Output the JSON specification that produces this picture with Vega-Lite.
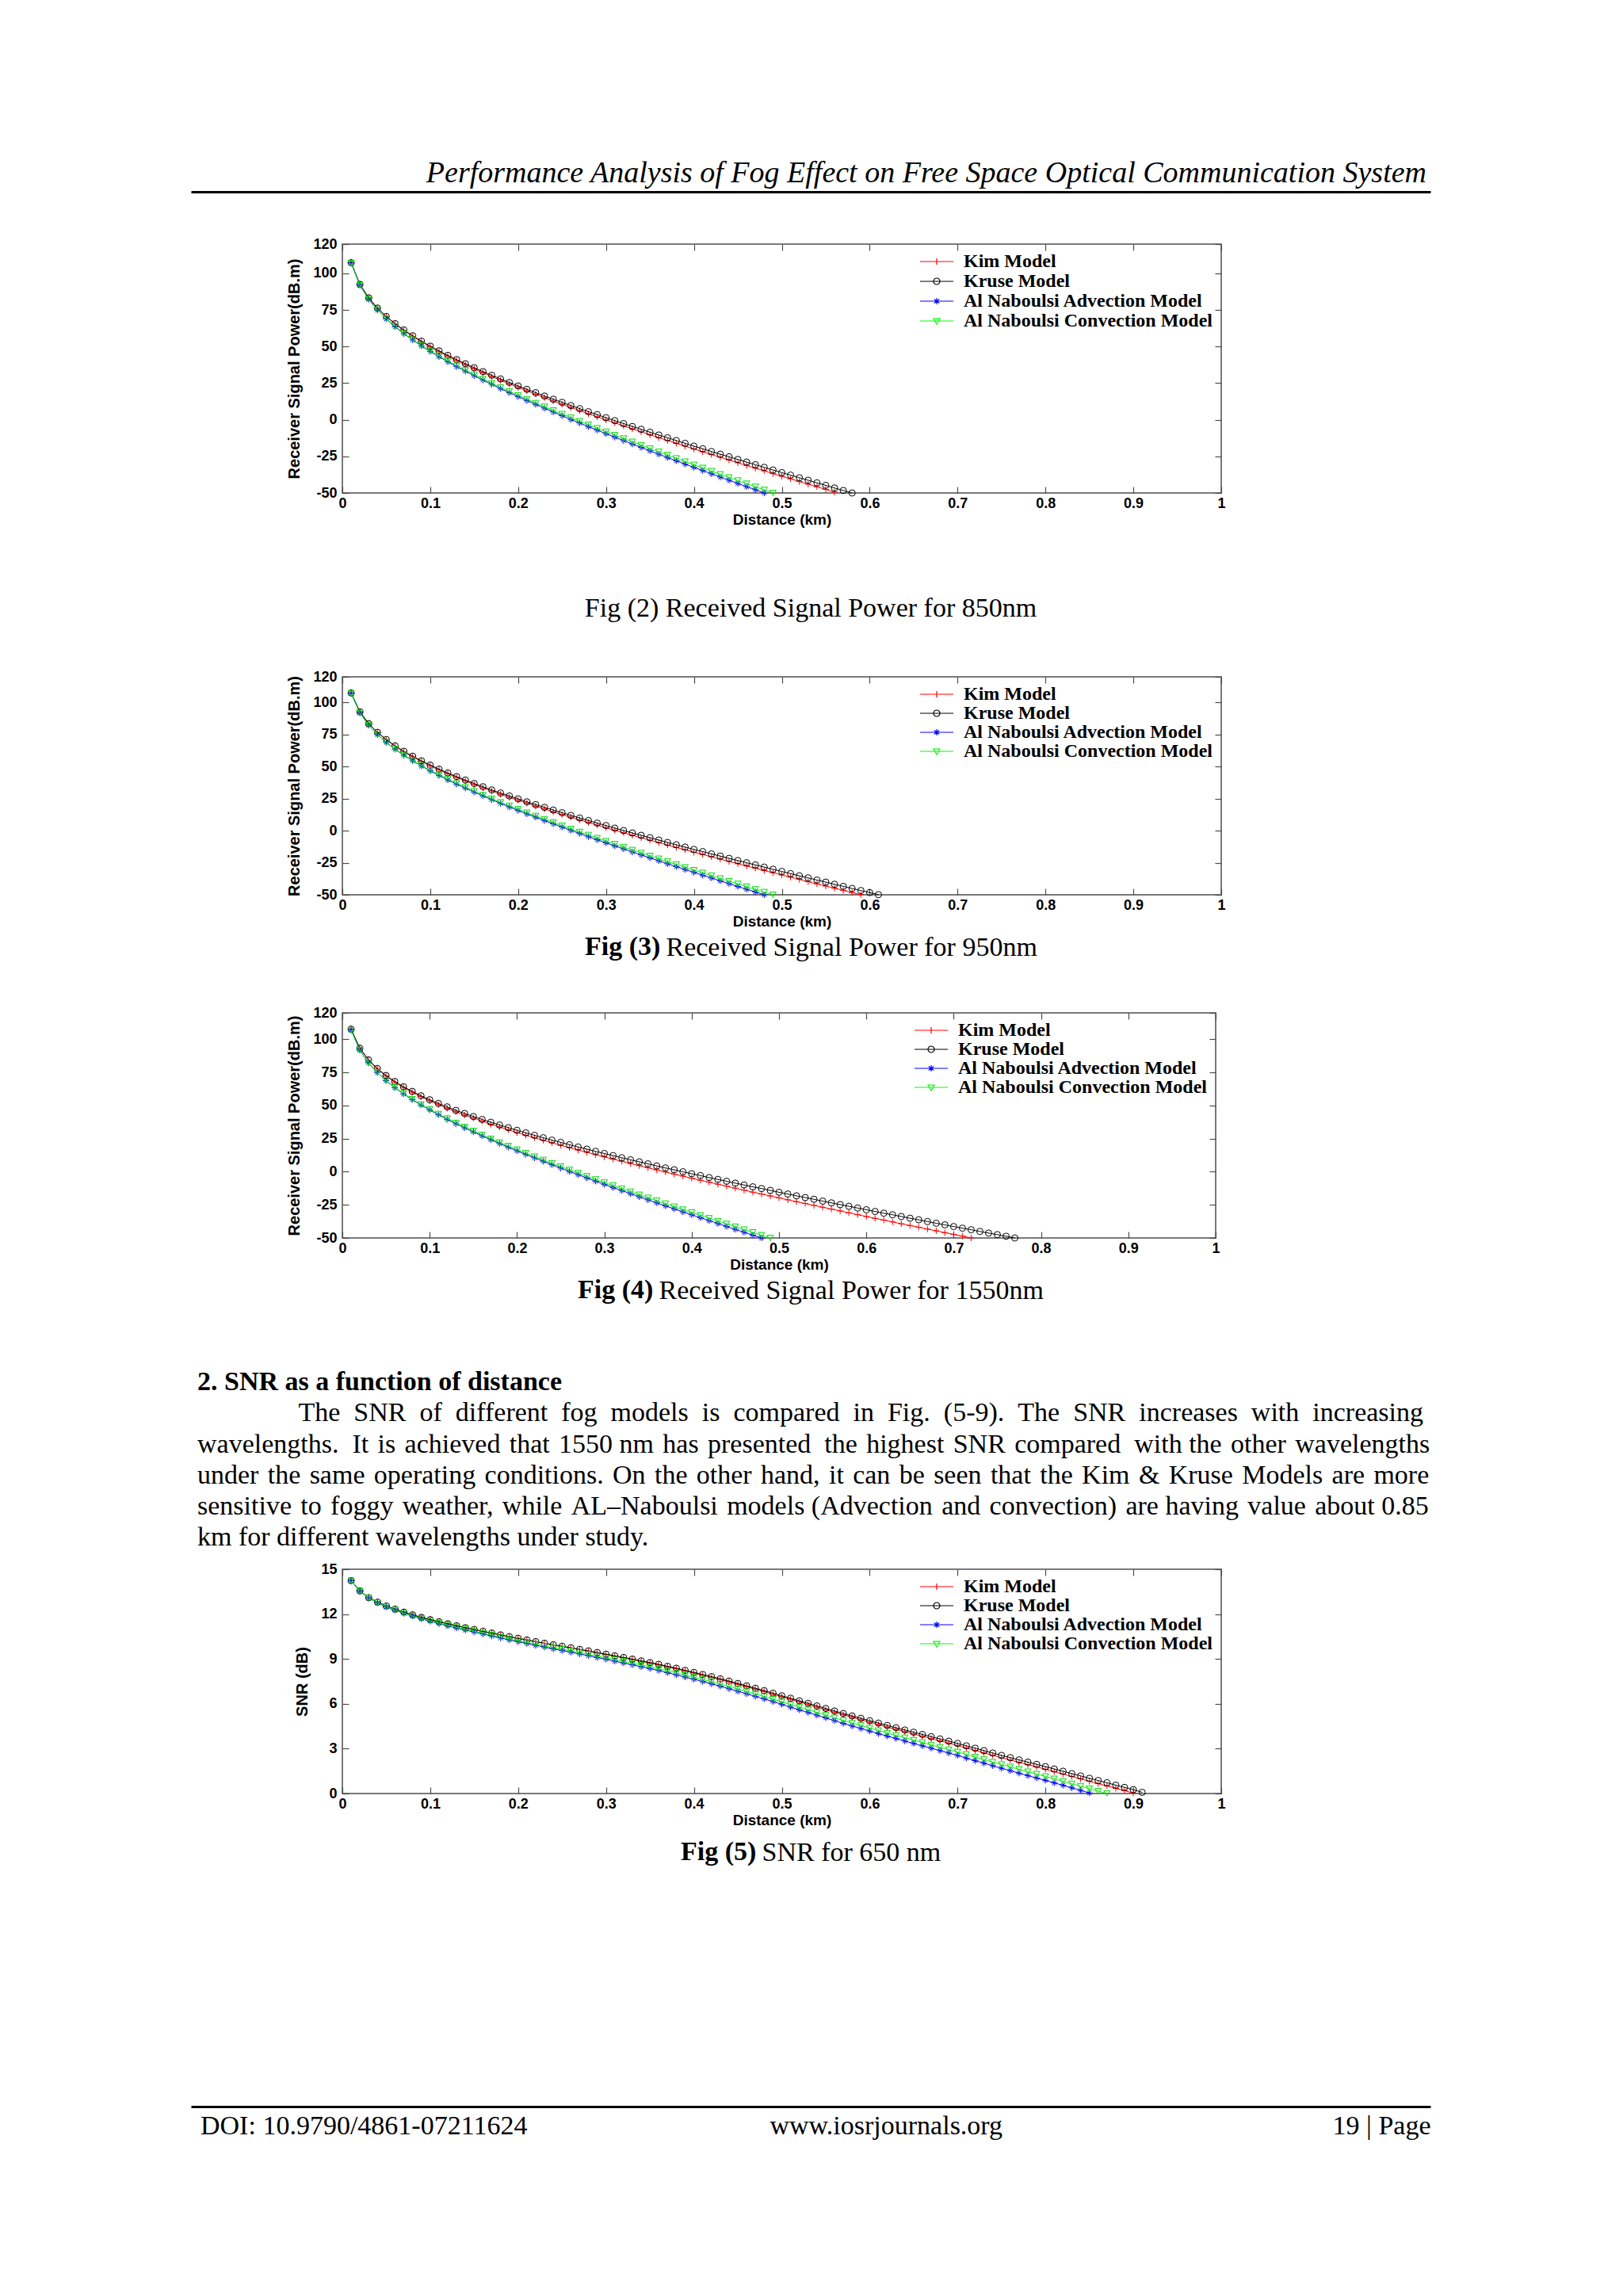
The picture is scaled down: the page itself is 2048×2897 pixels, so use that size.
{
"$schema": "https://vega.github.io/schema/vega-lite/v6.json",
"background": "white",
"padding": {"left": 241, "top": 200, "right": 0, "bottom": 0},
"bounds": "flush",
"spacing": 0,
"resolve": {"scale": {"color": "independent", "shape": "independent"}, "legend": {"color": "independent", "shape": "independent"}},
"datasets": {
"c1": [
{"d":0.01,"K":107.3,"R":107.3,"A":107.0,"C":107.0},
{"d":0.02,"K":92.4,"R":92.5,"A":91.8,"C":91.9},
{"d":0.03,"K":83.1,"R":83.3,"A":82.2,"C":82.3},
{"d":0.04,"K":76.1,"R":76.3,"A":74.9,"C":75.0},
{"d":0.05,"K":70.4,"R":70.6,"A":68.8,"C":69.0},
{"d":0.06,"K":65.4,"R":65.7,"A":63.5,"C":63.8},
{"d":0.07,"K":61.0,"R":61.4,"A":58.8,"C":59.1},
{"d":0.08,"K":57.0,"R":57.4,"A":54.5,"C":54.8},
{"d":0.09,"K":53.3,"R":53.7,"A":50.4,"C":50.8},
{"d":0.1,"K":49.8,"R":50.3,"A":46.7,"C":47.1},
{"d":0.11,"K":46.5,"R":47.1,"A":43.1,"C":43.6},
{"d":0.12,"K":43.4,"R":44.0,"A":39.6,"C":40.2},
{"d":0.13,"K":40.4,"R":41.1,"A":36.3,"C":36.9},
{"d":0.14,"K":37.6,"R":38.3,"A":33.2,"C":33.8},
{"d":0.15,"K":34.8,"R":35.6,"A":30.1,"C":30.8},
{"d":0.16,"K":32.1,"R":32.9,"A":27.1,"C":27.8},
{"d":0.17,"K":29.5,"R":30.4,"A":24.2,"C":24.9},
{"d":0.18,"K":27.0,"R":27.9,"A":21.3,"C":22.1},
{"d":0.19,"K":24.5,"R":25.5,"A":18.5,"C":19.4},
{"d":0.2,"K":22.1,"R":23.1,"A":15.8,"C":16.7},
{"d":0.21,"K":19.7,"R":20.8,"A":13.1,"C":14.0},
{"d":0.22,"K":17.4,"R":18.5,"A":10.5,"C":11.4},
{"d":0.23,"K":15.1,"R":16.2,"A":7.9,"C":8.9},
{"d":0.24,"K":12.8,"R":14.0,"A":5.3,"C":6.3},
{"d":0.25,"K":10.6,"R":11.9,"A":2.8,"C":3.9},
{"d":0.26,"K":8.4,"R":9.7,"A":0.2,"C":1.4},
{"d":0.27,"K":6.3,"R":7.6,"A":-2.2,"C":-1.0},
{"d":0.28,"K":4.1,"R":5.5,"A":-4.7,"C":-3.4},
{"d":0.29,"K":2.0,"R":3.5,"A":-7.1,"C":-5.8},
{"d":0.3,"K":-0.1,"R":1.4,"A":-9.5,"C":-8.2},
{"d":0.31,"K":-2.1,"R":-0.6,"A":-11.9,"C":-10.5},
{"d":0.32,"K":-4.2,"R":-2.6,"A":-14.2,"C":-12.8},
{"d":0.33,"K":-6.2,"R":-4.6,"A":-16.6,"C":-15.1},
{"d":0.34,"K":-8.2,"R":-6.5,"A":-18.9,"C":-17.4},
{"d":0.35,"K":-10.2,"R":-8.5,"A":-21.2,"C":-19.7},
{"d":0.36,"K":-12.2,"R":-10.4,"A":-23.5,"C":-21.9},
{"d":0.37,"K":-14.2,"R":-12.3,"A":-25.8,"C":-24.1},
{"d":0.38,"K":-16.1,"R":-14.2,"A":-28.0,"C":-26.4},
{"d":0.39,"K":-18.0,"R":-16.1,"A":-30.3,"C":-28.6},
{"d":0.4,"K":-20.0,"R":-18.0,"A":-32.5,"C":-30.8},
{"d":0.41,"K":-21.9,"R":-19.8,"A":-34.7,"C":-32.9},
{"d":0.42,"K":-23.8,"R":-21.7,"A":-36.9,"C":-35.1},
{"d":0.43,"K":-25.6,"R":-23.5,"A":-39.1,"C":-37.3},
{"d":0.44,"K":-27.5,"R":-25.3,"A":-41.3,"C":-39.4},
{"d":0.45,"K":-29.4,"R":-27.1,"A":-43.5,"C":-41.5},
{"d":0.46,"K":-31.2,"R":-28.9,"A":-45.7,"C":-43.7},
{"d":0.47,"K":-33.1,"R":-30.7,"A":-47.8,"C":-45.8},
{"d":0.48,"K":-34.9,"R":-32.5,"A":-50.0,"C":-47.9},
{"d":0.49,"K":-36.8,"R":-34.3,"C":-50.0},
{"d":0.5,"K":-38.6,"R":-36.1},
{"d":0.51,"K":-40.4,"R":-37.8},
{"d":0.52,"K":-42.2,"R":-39.6},
{"d":0.53,"K":-44.0,"R":-41.3},
{"d":0.54,"K":-45.8,"R":-43.1},
{"d":0.55,"K":-47.6,"R":-44.8},
{"d":0.56,"K":-49.4,"R":-46.6},
{"d":0.57,"R":-48.3},
{"d":0.58,"R":-50.0}
],
"c2": [
{"d":0.01,"K":107.4,"R":107.4,"A":107.0,"C":107.0},
{"d":0.02,"K":92.6,"R":92.7,"A":91.8,"C":91.9},
{"d":0.03,"K":83.4,"R":83.5,"A":82.2,"C":82.3},
{"d":0.04,"K":76.5,"R":76.7,"A":74.9,"C":75.0},
{"d":0.05,"K":70.8,"R":71.1,"A":68.8,"C":69.0},
{"d":0.06,"K":65.9,"R":66.2,"A":63.5,"C":63.8},
{"d":0.07,"K":61.6,"R":61.9,"A":58.8,"C":59.1},
{"d":0.08,"K":57.6,"R":58.1,"A":54.5,"C":54.8},
{"d":0.09,"K":54.0,"R":54.5,"A":50.4,"C":50.8},
{"d":0.1,"K":50.6,"R":51.2,"A":46.7,"C":47.1},
{"d":0.11,"K":47.4,"R":48.0,"A":43.1,"C":43.6},
{"d":0.12,"K":44.4,"R":45.0,"A":39.6,"C":40.2},
{"d":0.13,"K":41.5,"R":42.2,"A":36.3,"C":36.9},
{"d":0.14,"K":38.7,"R":39.5,"A":33.2,"C":33.8},
{"d":0.15,"K":36.0,"R":36.8,"A":30.1,"C":30.8},
{"d":0.16,"K":33.4,"R":34.3,"A":27.1,"C":27.8},
{"d":0.17,"K":30.9,"R":31.8,"A":24.2,"C":24.9},
{"d":0.18,"K":28.4,"R":29.4,"A":21.3,"C":22.1},
{"d":0.19,"K":26.0,"R":27.1,"A":18.5,"C":19.4},
{"d":0.2,"K":23.7,"R":24.8,"A":15.8,"C":16.7},
{"d":0.21,"K":21.4,"R":22.5,"A":13.1,"C":14.0},
{"d":0.22,"K":19.1,"R":20.3,"A":10.5,"C":11.4},
{"d":0.23,"K":16.9,"R":18.2,"A":7.9,"C":8.9},
{"d":0.24,"K":14.7,"R":16.1,"A":5.3,"C":6.3},
{"d":0.25,"K":12.6,"R":14.0,"A":2.8,"C":3.9},
{"d":0.26,"K":10.5,"R":11.9,"A":0.2,"C":1.4},
{"d":0.27,"K":8.4,"R":9.9,"A":-2.2,"C":-1.0},
{"d":0.28,"K":6.4,"R":7.9,"A":-4.7,"C":-3.4},
{"d":0.29,"K":4.3,"R":5.9,"A":-7.1,"C":-5.8},
{"d":0.3,"K":2.3,"R":4.0,"A":-9.5,"C":-8.2},
{"d":0.31,"K":0.3,"R":2.0,"A":-11.9,"C":-10.5},
{"d":0.32,"K":-1.6,"R":0.1,"A":-14.2,"C":-12.8},
{"d":0.33,"K":-3.6,"R":-1.8,"A":-16.6,"C":-15.1},
{"d":0.34,"K":-5.5,"R":-3.6,"A":-18.9,"C":-17.4},
{"d":0.35,"K":-7.4,"R":-5.5,"A":-21.2,"C":-19.7},
{"d":0.36,"K":-9.3,"R":-7.3,"A":-23.5,"C":-21.9},
{"d":0.37,"K":-11.2,"R":-9.2,"A":-25.8,"C":-24.1},
{"d":0.38,"K":-13.1,"R":-11.0,"A":-28.0,"C":-26.4},
{"d":0.39,"K":-14.9,"R":-12.8,"A":-30.3,"C":-28.6},
{"d":0.4,"K":-16.8,"R":-14.6,"A":-32.5,"C":-30.8},
{"d":0.41,"K":-18.6,"R":-16.3,"A":-34.7,"C":-32.9},
{"d":0.42,"K":-20.4,"R":-18.1,"A":-36.9,"C":-35.1},
{"d":0.43,"K":-22.2,"R":-19.8,"A":-39.1,"C":-37.3},
{"d":0.44,"K":-24.0,"R":-21.6,"A":-41.3,"C":-39.4},
{"d":0.45,"K":-25.8,"R":-23.3,"A":-43.5,"C":-41.5},
{"d":0.46,"K":-27.6,"R":-25.0,"A":-45.7,"C":-43.7},
{"d":0.47,"K":-29.3,"R":-26.7,"A":-47.8,"C":-45.8},
{"d":0.48,"K":-31.1,"R":-28.4,"A":-50.0,"C":-47.9},
{"d":0.49,"K":-32.8,"R":-30.1,"C":-50.0},
{"d":0.5,"K":-34.6,"R":-31.8},
{"d":0.51,"K":-36.3,"R":-33.5},
{"d":0.52,"K":-38.0,"R":-35.2},
{"d":0.53,"K":-39.8,"R":-36.8},
{"d":0.54,"K":-41.5,"R":-38.5},
{"d":0.55,"K":-43.2,"R":-40.1},
{"d":0.56,"K":-44.9,"R":-41.8},
{"d":0.57,"K":-46.6,"R":-43.4},
{"d":0.58,"K":-48.3,"R":-45.1},
{"d":0.59,"K":-49.9,"R":-46.7},
{"d":0.6,"R":-48.3},
{"d":0.61,"R":-49.9}
],
"c3": [
{"d":0.01,"K":107.6,"R":107.7,"A":107.0,"C":107.0},
{"d":0.02,"K":93.2,"R":93.3,"A":91.8,"C":91.9},
{"d":0.03,"K":84.3,"R":84.5,"A":82.2,"C":82.3},
{"d":0.04,"K":77.6,"R":78.0,"A":74.9,"C":75.0},
{"d":0.05,"K":72.3,"R":72.7,"A":68.8,"C":69.0},
{"d":0.06,"K":67.7,"R":68.2,"A":63.5,"C":63.8},
{"d":0.07,"K":63.6,"R":64.2,"A":58.8,"C":59.1},
{"d":0.08,"K":60.0,"R":60.7,"A":54.5,"C":54.8},
{"d":0.09,"K":56.7,"R":57.4,"A":50.4,"C":50.8},
{"d":0.1,"K":53.6,"R":54.4,"A":46.7,"C":47.1},
{"d":0.11,"K":50.7,"R":51.6,"A":43.1,"C":43.6},
{"d":0.12,"K":47.9,"R":49.0,"A":39.6,"C":40.2},
{"d":0.13,"K":45.3,"R":46.4,"A":36.3,"C":36.9},
{"d":0.14,"K":42.8,"R":44.0,"A":33.2,"C":33.8},
{"d":0.15,"K":40.5,"R":41.7,"A":30.1,"C":30.8},
{"d":0.16,"K":38.2,"R":39.5,"A":27.1,"C":27.8},
{"d":0.17,"K":35.9,"R":37.4,"A":24.2,"C":24.9},
{"d":0.18,"K":33.8,"R":35.3,"A":21.3,"C":22.1},
{"d":0.19,"K":31.7,"R":33.3,"A":18.5,"C":19.4},
{"d":0.2,"K":29.6,"R":31.3,"A":15.8,"C":16.7},
{"d":0.21,"K":27.6,"R":29.4,"A":13.1,"C":14.0},
{"d":0.22,"K":25.7,"R":27.5,"A":10.5,"C":11.4},
{"d":0.23,"K":23.8,"R":25.7,"A":7.9,"C":8.9},
{"d":0.24,"K":21.9,"R":23.9,"A":5.3,"C":6.3},
{"d":0.25,"K":20.0,"R":22.2,"A":2.8,"C":3.9},
{"d":0.26,"K":18.2,"R":20.4,"A":0.2,"C":1.4},
{"d":0.27,"K":16.4,"R":18.7,"A":-2.2,"C":-1.0},
{"d":0.28,"K":14.7,"R":17.1,"A":-4.7,"C":-3.4},
{"d":0.29,"K":12.9,"R":15.4,"A":-7.1,"C":-5.8},
{"d":0.3,"K":11.2,"R":13.8,"A":-9.5,"C":-8.2},
{"d":0.31,"K":9.5,"R":12.2,"A":-11.9,"C":-10.5},
{"d":0.32,"K":7.9,"R":10.6,"A":-14.2,"C":-12.8},
{"d":0.33,"K":6.2,"R":9.0,"A":-16.6,"C":-15.1},
{"d":0.34,"K":4.6,"R":7.5,"A":-18.9,"C":-17.4},
{"d":0.35,"K":3.0,"R":6.0,"A":-21.2,"C":-19.7},
{"d":0.36,"K":1.4,"R":4.4,"A":-23.5,"C":-21.9},
{"d":0.37,"K":-0.2,"R":2.9,"A":-25.8,"C":-24.1},
{"d":0.38,"K":-1.8,"R":1.5,"A":-28.0,"C":-26.4},
{"d":0.39,"K":-3.3,"R":0.0,"A":-30.3,"C":-28.6},
{"d":0.4,"K":-4.9,"R":-1.5,"A":-32.5,"C":-30.8},
{"d":0.41,"K":-6.4,"R":-2.9,"A":-34.7,"C":-32.9},
{"d":0.42,"K":-7.9,"R":-4.4,"A":-36.9,"C":-35.1},
{"d":0.43,"K":-9.4,"R":-5.8,"A":-39.1,"C":-37.3},
{"d":0.44,"K":-10.9,"R":-7.2,"A":-41.3,"C":-39.4},
{"d":0.45,"K":-12.4,"R":-8.6,"A":-43.5,"C":-41.5},
{"d":0.46,"K":-13.9,"R":-10.0,"A":-45.7,"C":-43.7},
{"d":0.47,"K":-15.4,"R":-11.4,"A":-47.8,"C":-45.8},
{"d":0.48,"K":-16.8,"R":-12.7,"A":-50.0,"C":-47.9},
{"d":0.49,"K":-18.3,"R":-14.1,"C":-50.0},
{"d":0.5,"K":-19.7,"R":-15.5},
{"d":0.51,"K":-21.2,"R":-16.8},
{"d":0.52,"K":-22.6,"R":-18.2},
{"d":0.53,"K":-24.0,"R":-19.5},
{"d":0.54,"K":-25.4,"R":-20.8},
{"d":0.55,"K":-26.8,"R":-22.2},
{"d":0.56,"K":-28.2,"R":-23.5},
{"d":0.57,"K":-29.6,"R":-24.8},
{"d":0.58,"K":-31.0,"R":-26.1},
{"d":0.59,"K":-32.4,"R":-27.4},
{"d":0.6,"K":-33.8,"R":-28.7},
{"d":0.61,"K":-35.2,"R":-30.0},
{"d":0.62,"K":-36.5,"R":-31.3},
{"d":0.63,"K":-37.9,"R":-32.5},
{"d":0.64,"K":-39.3,"R":-33.8},
{"d":0.65,"K":-40.6,"R":-35.1},
{"d":0.66,"K":-41.9,"R":-36.3},
{"d":0.67,"K":-43.3,"R":-37.6},
{"d":0.68,"K":-44.6,"R":-38.9},
{"d":0.69,"K":-46.0,"R":-40.1},
{"d":0.7,"K":-47.3,"R":-41.4},
{"d":0.71,"K":-48.6,"R":-42.6},
{"d":0.72,"K":-50.0,"R":-43.8},
{"d":0.73,"R":-45.1},
{"d":0.74,"R":-46.3},
{"d":0.75,"R":-47.5},
{"d":0.76,"R":-48.7},
{"d":0.77,"R":-50.0}
],
"c4": [
{"d":0.01,"K":14.24,"R":14.24,"A":14.23,"C":14.23},
{"d":0.02,"K":13.55,"R":13.55,"A":13.53,"C":13.53},
{"d":0.03,"K":13.1,"R":13.1,"A":13.07,"C":13.08},
{"d":0.04,"K":12.8,"R":12.8,"A":12.75,"C":12.77},
{"d":0.05,"K":12.54,"R":12.54,"A":12.48,"C":12.5},
{"d":0.06,"K":12.33,"R":12.33,"A":12.26,"C":12.28},
{"d":0.07,"K":12.13,"R":12.13,"A":12.05,"C":12.07},
{"d":0.08,"K":11.95,"R":11.95,"A":11.86,"C":11.88},
{"d":0.09,"K":11.78,"R":11.78,"A":11.68,"C":11.71},
{"d":0.1,"K":11.63,"R":11.63,"A":11.52,"C":11.55},
{"d":0.11,"K":11.49,"R":11.49,"A":11.36,"C":11.4},
{"d":0.12,"K":11.35,"R":11.35,"A":11.21,"C":11.25},
{"d":0.13,"K":11.22,"R":11.22,"A":11.07,"C":11.11},
{"d":0.14,"K":11.08,"R":11.09,"A":10.93,"C":10.98},
{"d":0.15,"K":10.96,"R":10.97,"A":10.8,"C":10.85},
{"d":0.16,"K":10.84,"R":10.85,"A":10.67,"C":10.72},
{"d":0.17,"K":10.72,"R":10.73,"A":10.53,"C":10.59},
{"d":0.18,"K":10.6,"R":10.61,"A":10.4,"C":10.46},
{"d":0.19,"K":10.48,"R":10.49,"A":10.27,"C":10.33},
{"d":0.2,"K":10.37,"R":10.38,"A":10.15,"C":10.22},
{"d":0.21,"K":10.26,"R":10.27,"A":10.03,"C":10.1},
{"d":0.22,"K":10.15,"R":10.16,"A":9.91,"C":9.98},
{"d":0.23,"K":10.04,"R":10.05,"A":9.79,"C":9.86},
{"d":0.24,"K":9.93,"R":9.95,"A":9.67,"C":9.75},
{"d":0.25,"K":9.83,"R":9.85,"A":9.56,"C":9.65},
{"d":0.26,"K":9.73,"R":9.75,"A":9.45,"C":9.54},
{"d":0.27,"K":9.62,"R":9.64,"A":9.33,"C":9.42},
{"d":0.28,"K":9.52,"R":9.54,"A":9.22,"C":9.31},
{"d":0.29,"K":9.41,"R":9.43,"A":9.1,"C":9.19},
{"d":0.3,"K":9.29,"R":9.32,"A":8.98,"C":9.07},
{"d":0.31,"K":9.18,"R":9.21,"A":8.85,"C":8.96},
{"d":0.32,"K":9.07,"R":9.1,"A":8.73,"C":8.84},
{"d":0.33,"K":8.96,"R":8.99,"A":8.61,"C":8.72},
{"d":0.34,"K":8.84,"R":8.87,"A":8.48,"C":8.59},
{"d":0.35,"K":8.73,"R":8.76,"A":8.36,"C":8.47},
{"d":0.36,"K":8.6,"R":8.64,"A":8.23,"C":8.34},
{"d":0.37,"K":8.47,"R":8.51,"A":8.08,"C":8.21},
{"d":0.38,"K":8.34,"R":8.38,"A":7.94,"C":8.07},
{"d":0.39,"K":8.2,"R":8.24,"A":7.79,"C":7.92},
{"d":0.4,"K":8.06,"R":8.1,"A":7.64,"C":7.77},
{"d":0.41,"K":7.91,"R":7.96,"A":7.49,"C":7.62},
{"d":0.42,"K":7.77,"R":7.82,"A":7.34,"C":7.48},
{"d":0.43,"K":7.62,"R":7.67,"A":7.18,"C":7.32},
{"d":0.44,"K":7.47,"R":7.52,"A":7.01,"C":7.16},
{"d":0.45,"K":7.3,"R":7.36,"A":6.84,"C":6.99},
{"d":0.46,"K":7.14,"R":7.2,"A":6.67,"C":6.82},
{"d":0.47,"K":6.98,"R":7.04,"A":6.5,"C":6.65},
{"d":0.48,"K":6.82,"R":6.88,"A":6.33,"C":6.49},
{"d":0.49,"K":6.64,"R":6.71,"A":6.15,"C":6.31},
{"d":0.5,"K":6.47,"R":6.54,"A":5.97,"C":6.13},
{"d":0.51,"K":6.3,"R":6.37,"A":5.78,"C":5.95},
{"d":0.52,"K":6.12,"R":6.2,"A":5.6,"C":5.77},
{"d":0.53,"K":5.95,"R":6.03,"A":5.42,"C":5.6},
{"d":0.54,"K":5.78,"R":5.86,"A":5.24,"C":5.42},
{"d":0.55,"K":5.6,"R":5.69,"A":5.06,"C":5.24},
{"d":0.56,"K":5.43,"R":5.52,"A":4.88,"C":5.06},
{"d":0.57,"K":5.26,"R":5.35,"A":4.69,"C":4.88},
{"d":0.58,"K":5.1,"R":5.19,"A":4.52,"C":4.71},
{"d":0.59,"K":4.93,"R":5.03,"A":4.35,"C":4.55},
{"d":0.6,"K":4.77,"R":4.87,"A":4.18,"C":4.38},
{"d":0.61,"K":4.61,"R":4.71,"A":4.01,"C":4.21},
{"d":0.62,"K":4.44,"R":4.55,"A":3.84,"C":4.04},
{"d":0.63,"K":4.29,"R":4.4,"A":3.68,"C":3.88},
{"d":0.64,"K":4.14,"R":4.25,"A":3.51,"C":3.73},
{"d":0.65,"K":3.98,"R":4.1,"A":3.35,"C":3.57},
{"d":0.66,"K":3.83,"R":3.95,"A":3.19,"C":3.41},
{"d":0.67,"K":3.67,"R":3.8,"A":3.03,"C":3.25},
{"d":0.68,"K":3.52,"R":3.65,"A":2.87,"C":3.09},
{"d":0.69,"K":3.37,"R":3.5,"A":2.71,"C":2.93},
{"d":0.7,"K":3.21,"R":3.35,"A":2.55,"C":2.78},
{"d":0.71,"K":3.05,"R":3.19,"A":2.37,"C":2.61},
{"d":0.72,"K":2.88,"R":3.03,"A":2.2,"C":2.44},
{"d":0.73,"K":2.72,"R":2.87,"A":2.03,"C":2.27},
{"d":0.74,"K":2.56,"R":2.71,"A":1.86,"C":2.1},
{"d":0.75,"K":2.39,"R":2.55,"A":1.69,"C":1.94},
{"d":0.76,"K":2.24,"R":2.4,"A":1.53,"C":1.78},
{"d":0.77,"K":2.08,"R":2.25,"A":1.36,"C":1.62},
{"d":0.78,"K":1.93,"R":2.1,"A":1.2,"C":1.46},
{"d":0.79,"K":1.78,"R":1.95,"A":1.04,"C":1.3},
{"d":0.8,"K":1.62,"R":1.8,"A":0.88,"C":1.14},
{"d":0.81,"K":1.46,"R":1.64,"A":0.71,"C":0.98},
{"d":0.82,"K":1.3,"R":1.49,"A":0.55,"C":0.82},
{"d":0.83,"K":1.14,"R":1.33,"A":0.38,"C":0.65},
{"d":0.84,"K":0.98,"R":1.18,"A":0.21,"C":0.49},
{"d":0.85,"K":0.82,"R":1.02,"A":0.04,"C":0.32},
{"d":0.86,"K":0.66,"R":0.87,"C":0.16},
{"d":0.87,"K":0.51,"R":0.72,"C":0.01},
{"d":0.88,"K":0.34,"R":0.56},
{"d":0.89,"K":0.19,"R":0.41},
{"d":0.9,"K":0.03,"R":0.26},
{"d":0.91,"R":0.08}
]
},
"vconcat": [
{
"width": 1564, "height": 66,
"view": {"stroke": null},
"data": {"values": []},
"mark": "rule",
"encoding": {"x": {"field": "d", "type": "quantitative", "scale": {"domain": [0, 1]}, "axis": {"orient": "top", "position": -191, "domain": true, "domainColor": "#000000", "domainWidth": 3, "ticks": false, "labels": false, "title": null, "grid": false}}},
"title": {"text": "Performance Analysis of Fog Effect on Free Space Optical Communication System", "orient": "top", "anchor": "end", "dx": -196, "offset": -26, "baseline": "alphabetic", "fontStyle": "italic", "fontSize": 38}
},
{
"width": 1109, "height": 314,
"data": {"name": "c1"},
"transform": [{"fold": ["K","R","A","C"], "as": ["m","v"]}, {"filter": "isValid(datum.v)"}],
"resolve": {"axis": {"x": "independent", "y": "independent"}},
"layer": [
{
"encoding": {
"x": {"field": "d", "type": "quantitative", "scale": {"domain": [0, 1], "nice": false}, "axis": {"values": [0,0.1,0.2,0.3,0.4,0.5,0.6,0.7,0.8,0.9,1], "format": "~g", "labelPadding": 12, "title": "Distance (km)", "titlePadding": 2.5, "titleFontSize": 19}},
"y": {"field": "v", "type": "quantitative", "scale": {"domain": [-50, 120], "nice": false}, "axis": {"values": [-50,-25,0,25,50,75,100,120], "labelExpr": "datum.value + ''", "labelPadding": 15, "title": "Receiver Signal Power(dB.m)", "titlePadding": 13}}
},
"layer": [
{"transform": [{"filter": "datum.m == 'K'"}], "mark": {"type": "line", "color": "#ff0000", "strokeWidth": 1, "point": {"shape": "M-1,0H1M0,-1V1", "size": 64, "filled": false, "color": "#ff0000", "strokeWidth": 1, "opacity": 1}}},
{"transform": [{"filter": "datum.m == 'R'"}], "mark": {"type": "line", "color": "#000000", "strokeWidth": 1, "point": {"shape": "circle", "size": 64, "filled": false, "color": "#000000", "strokeWidth": 1, "opacity": 1}}},
{"transform": [{"filter": "datum.m == 'A'"}], "mark": {"type": "line", "color": "#0000ff", "strokeWidth": 1, "point": {"shape": "M-1,0H1M0,-1V1M-0.7,-0.7L0.7,0.7M-0.7,0.7L0.7,-0.7", "size": 64, "filled": false, "color": "#0000ff", "strokeWidth": 1, "opacity": 1}}},
{"transform": [{"filter": "datum.m == 'C'"}], "mark": {"type": "line", "color": "#00ff00", "strokeWidth": 1, "point": {"shape": "triangle-down", "size": 64, "filled": false, "color": "#00dd00", "strokeWidth": 1, "opacity": 1}}}
]
},
{
"mark": {"type": "point", "opacity": 0, "filled": false},
"encoding": {
"x": {"field": "d", "type": "quantitative", "scale": {"domain": [0, 1], "nice": false}, "axis": {"orient": "top", "values": [0,0.1,0.2,0.3,0.4,0.5,0.6,0.7,0.8,0.9,1], "labels": false, "title": null}},
"y": {"field": "v", "type": "quantitative", "scale": {"domain": [-50, 120], "nice": false}, "axis": {"orient": "right", "values": [-50,-25,0,25,50,75,100,120], "labels": false, "title": null}},
"color": {"field": "m", "type": "nominal", "scale": {"domain": ["K","R","A","C"], "range": ["#ff0000","#000000","#0000ff","#00ff00"]}, "legend": {"title": null, "orient": "top-right", "rowPadding": 1, "symbolOpacity": 1, "labelExpr": "datum.label == 'K' ? 'Kim Model' : datum.label == 'R' ? 'Kruse Model' : datum.label == 'A' ? 'Al Naboulsi Advection Model' : 'Al Naboulsi Convection Model'"}},
"shape": {"field": "m", "type": "nominal", "scale": {"domain": ["K","R","A","C"], "range": ["M-5.25,0H5.25M0,-1V1", "M-5.25,0H5.25M-1,0A1,1,0,1,1,1,0A1,1,0,1,1,-1,0", "M-5.25,0H5.25M0,-1V1M-0.8,-0.6L0.8,0.6M-0.8,0.6L0.8,-0.6", "M-5.25,0H5.25M-1,-0.7H1L0,1Z"]}, "legend": {"title": null, "orient": "top-right", "rowPadding": 1, "symbolOpacity": 1, "labelExpr": "datum.label == 'K' ? 'Kim Model' : datum.label == 'R' ? 'Kruse Model' : datum.label == 'A' ? 'Al Naboulsi Advection Model' : 'Al Naboulsi Convection Model'"}}
}
}
]
},
{
"width": 1182, "height": 232, "view": {"stroke": null}, "data": {"values": []}, "mark": "rule", "encoding": {},
"title": {"text": "Fig (2) Received Signal Power for 850nm", "orient": "bottom", "anchor": "middle", "offset": -103}
},
{
"width": 1109, "height": 275,
"data": {"name": "c2"},
"transform": [{"fold": ["K","R","A","C"], "as": ["m","v"]}, {"filter": "isValid(datum.v)"}],
"resolve": {"axis": {"x": "independent", "y": "independent"}},
"layer": [
{
"encoding": {
"x": {"field": "d", "type": "quantitative", "scale": {"domain": [0, 1], "nice": false}, "axis": {"values": [0,0.1,0.2,0.3,0.4,0.5,0.6,0.7,0.8,0.9,1], "format": "~g", "labelPadding": 12, "title": "Distance (km)", "titlePadding": 2.5, "titleFontSize": 19}},
"y": {"field": "v", "type": "quantitative", "scale": {"domain": [-50, 120], "nice": false}, "axis": {"values": [-50,-25,0,25,50,75,100,120], "labelExpr": "datum.value + ''", "labelPadding": 15, "title": "Receiver Signal Power(dB.m)", "titlePadding": 13}}
},
"layer": [
{"transform": [{"filter": "datum.m == 'K'"}], "mark": {"type": "line", "color": "#ff0000", "strokeWidth": 1, "point": {"shape": "M-1,0H1M0,-1V1", "size": 64, "filled": false, "color": "#ff0000", "strokeWidth": 1, "opacity": 1}}},
{"transform": [{"filter": "datum.m == 'R'"}], "mark": {"type": "line", "color": "#000000", "strokeWidth": 1, "point": {"shape": "circle", "size": 64, "filled": false, "color": "#000000", "strokeWidth": 1, "opacity": 1}}},
{"transform": [{"filter": "datum.m == 'A'"}], "mark": {"type": "line", "color": "#0000ff", "strokeWidth": 1, "point": {"shape": "M-1,0H1M0,-1V1M-0.7,-0.7L0.7,0.7M-0.7,0.7L0.7,-0.7", "size": 64, "filled": false, "color": "#0000ff", "strokeWidth": 1, "opacity": 1}}},
{"transform": [{"filter": "datum.m == 'C'"}], "mark": {"type": "line", "color": "#00ff00", "strokeWidth": 1, "point": {"shape": "triangle-down", "size": 64, "filled": false, "color": "#00dd00", "strokeWidth": 1, "opacity": 1}}}
]
},
{
"mark": {"type": "point", "opacity": 0, "filled": false},
"encoding": {
"x": {"field": "d", "type": "quantitative", "scale": {"domain": [0, 1], "nice": false}, "axis": {"orient": "top", "values": [0,0.1,0.2,0.3,0.4,0.5,0.6,0.7,0.8,0.9,1], "labels": false, "title": null}},
"y": {"field": "v", "type": "quantitative", "scale": {"domain": [-50, 120], "nice": false}, "axis": {"orient": "right", "values": [-50,-25,0,25,50,75,100,120], "labels": false, "title": null}},
"color": {"field": "m", "type": "nominal", "scale": {"domain": ["K","R","A","C"], "range": ["#ff0000","#000000","#0000ff","#00ff00"]}, "legend": {"title": null, "orient": "top-right", "rowPadding": 0, "symbolOpacity": 1, "labelExpr": "datum.label == 'K' ? 'Kim Model' : datum.label == 'R' ? 'Kruse Model' : datum.label == 'A' ? 'Al Naboulsi Advection Model' : 'Al Naboulsi Convection Model'"}},
"shape": {"field": "m", "type": "nominal", "scale": {"domain": ["K","R","A","C"], "range": ["M-5.25,0H5.25M0,-1V1", "M-5.25,0H5.25M-1,0A1,1,0,1,1,1,0A1,1,0,1,1,-1,0", "M-5.25,0H5.25M0,-1V1M-0.8,-0.6L0.8,0.6M-0.8,0.6L0.8,-0.6", "M-5.25,0H5.25M-1,-0.7H1L0,1Z"]}, "legend": {"title": null, "orient": "top-right", "rowPadding": 0, "symbolOpacity": 1, "labelExpr": "datum.label == 'K' ? 'Kim Model' : datum.label == 'R' ? 'Kruse Model' : datum.label == 'A' ? 'Al Naboulsi Advection Model' : 'Al Naboulsi Convection Model'"}}
}
}
]
},
{
"width": 1182, "height": 149, "view": {"stroke": null}, "data": {"values": []}, "mark": "rule",
"encoding": {"x": {"field": "d", "type": "quantitative", "scale": {"domain": [0, 1]}, "axis": {"orient": "bottom", "domain": false, "ticks": false, "labels": false, "grid": false, "title": "Received Signal Power for 950nm", "titleFont": "Liberation Serif", "titleFontWeight": "normal", "titleFontSize": 34, "titleColor": "#000000", "titleX": 408, "titleY": -73, "titleAlign": "left", "titleBaseline": "alphabetic", "titleAngle": 0}}},
"title": {"text": "Fig (3)", "fontWeight": "bold", "orient": "bottom", "anchor": "start", "dx": 306, "offset": -100}
},
{
"width": 1102, "height": 284,
"data": {"name": "c3"},
"transform": [{"fold": ["K","R","A","C"], "as": ["m","v"]}, {"filter": "isValid(datum.v)"}],
"resolve": {"axis": {"x": "independent", "y": "independent"}},
"layer": [
{
"encoding": {
"x": {"field": "d", "type": "quantitative", "scale": {"domain": [0, 1], "nice": false}, "axis": {"values": [0,0.1,0.2,0.3,0.4,0.5,0.6,0.7,0.8,0.9,1], "format": "~g", "labelPadding": 12, "title": "Distance (km)", "titlePadding": 2.5, "titleFontSize": 19}},
"y": {"field": "v", "type": "quantitative", "scale": {"domain": [-50, 120], "nice": false}, "axis": {"values": [-50,-25,0,25,50,75,100,120], "labelExpr": "datum.value + ''", "labelPadding": 15, "title": "Receiver Signal Power(dB.m)", "titlePadding": 13}}
},
"layer": [
{"transform": [{"filter": "datum.m == 'K'"}], "mark": {"type": "line", "color": "#ff0000", "strokeWidth": 1, "point": {"shape": "M-1,0H1M0,-1V1", "size": 64, "filled": false, "color": "#ff0000", "strokeWidth": 1, "opacity": 1}}},
{"transform": [{"filter": "datum.m == 'R'"}], "mark": {"type": "line", "color": "#000000", "strokeWidth": 1, "point": {"shape": "circle", "size": 64, "filled": false, "color": "#000000", "strokeWidth": 1, "opacity": 1}}},
{"transform": [{"filter": "datum.m == 'A'"}], "mark": {"type": "line", "color": "#0000ff", "strokeWidth": 1, "point": {"shape": "M-1,0H1M0,-1V1M-0.7,-0.7L0.7,0.7M-0.7,0.7L0.7,-0.7", "size": 64, "filled": false, "color": "#0000ff", "strokeWidth": 1, "opacity": 1}}},
{"transform": [{"filter": "datum.m == 'C'"}], "mark": {"type": "line", "color": "#00ff00", "strokeWidth": 1, "point": {"shape": "triangle-down", "size": 64, "filled": false, "color": "#00dd00", "strokeWidth": 1, "opacity": 1}}}
]
},
{
"mark": {"type": "point", "opacity": 0, "filled": false},
"encoding": {
"x": {"field": "d", "type": "quantitative", "scale": {"domain": [0, 1], "nice": false}, "axis": {"orient": "top", "values": [0,0.1,0.2,0.3,0.4,0.5,0.6,0.7,0.8,0.9,1], "labels": false, "title": null}},
"y": {"field": "v", "type": "quantitative", "scale": {"domain": [-50, 120], "nice": false}, "axis": {"orient": "right", "values": [-50,-25,0,25,50,75,100,120], "labels": false, "title": null}},
"color": {"field": "m", "type": "nominal", "scale": {"domain": ["K","R","A","C"], "range": ["#ff0000","#000000","#0000ff","#00ff00"]}, "legend": {"title": null, "orient": "top-right", "rowPadding": 0, "symbolOpacity": 1, "labelExpr": "datum.label == 'K' ? 'Kim Model' : datum.label == 'R' ? 'Kruse Model' : datum.label == 'A' ? 'Al Naboulsi Advection Model' : 'Al Naboulsi Convection Model'"}},
"shape": {"field": "m", "type": "nominal", "scale": {"domain": ["K","R","A","C"], "range": ["M-5.25,0H5.25M0,-1V1", "M-5.25,0H5.25M-1,0A1,1,0,1,1,1,0A1,1,0,1,1,-1,0", "M-5.25,0H5.25M0,-1V1M-0.8,-0.6L0.8,0.6M-0.8,0.6L0.8,-0.6", "M-5.25,0H5.25M-1,-0.7H1L0,1Z"]}, "legend": {"title": null, "orient": "top-right", "rowPadding": 0, "symbolOpacity": 1, "labelExpr": "datum.label == 'K' ? 'Kim Model' : datum.label == 'R' ? 'Kruse Model' : datum.label == 'A' ? 'Al Naboulsi Advection Model' : 'Al Naboulsi Convection Model'"}}
}
}
]
},
{
"width": 1182, "height": 192, "view": {"stroke": null}, "data": {"values": []}, "mark": "rule",
"encoding": {"x": {"field": "d", "type": "quantitative", "scale": {"domain": [0, 1]}, "axis": {"orient": "bottom", "domain": false, "ticks": false, "labels": false, "grid": false, "title": "Received Signal Power for 1550nm", "titleFont": "Liberation Serif", "titleFontWeight": "normal", "titleFontSize": 34, "titleColor": "#000000", "titleX": 399, "titleY": -116, "titleAlign": "left", "titleBaseline": "alphabetic", "titleAngle": 0}}},
"title": {"text": "Fig (4)", "fontWeight": "bold", "orient": "bottom", "anchor": "start", "dx": 297, "offset": -143}
},
{
"width": 1182, "height": 226, "view": {"stroke": null}, "data": {"values": []}, "mark": "rule", "encoding": {},
"title": {"text": "2. SNR as a function of distance", "fontWeight": "bold", "subtitle": [
"\u200b\u00a0\u00a0\u00a0\u00a0\u00a0\u00a0\u00a0\u00a0\u00a0\u00a0\u00a0\u00a0\u00a0\u00a0\u00a0The\u2002SNR\u2002of\u2002different\u2002fog\u2002models\u2002is\u2002compared\u2002in\u2002Fig.\u2002(5-9).\u2002The\u2002SNR\u2002increases\u2002with\u2002increasing",
"wavelengths.\u2002It\u2004is\u2004achieved\u2004that\u20041550 nm\u2004has\u2004presented\u2002the\u2004highest\u2004SNR\u2004compared\u2002with the\u2004other\u2004wavelengths",
"under\u2004the\u2004same\u2004operating\u2004conditions.\u2004On\u2004the\u2004other\u2004hand,\u2004it\u2004can\u2004be\u2004seen\u2004that\u2004the\u2004Kim\u2004&\u2004Kruse\u2004Models\u2004are\u2004more",
"sensitive\u2004to\u2004foggy\u2004weather,\u2004while\u2004AL\u2013Naboulsi\u2004models (Advection\u2004and\u2004convection)\u2004are having\u2004value\u2004about 0.85",
"km for different wavelengths under study."
], "subtitleLineHeight": 39.25, "subtitlePadding": 5.25, "orient": "bottom", "anchor": "start", "dx": -183, "offset": -253}
},
{
"width": 1109, "height": 283,
"data": {"name": "c4"},
"transform": [{"fold": ["K","R","A","C"], "as": ["m","v"]}, {"filter": "isValid(datum.v)"}],
"resolve": {"axis": {"x": "independent", "y": "independent"}},
"layer": [
{
"encoding": {
"x": {"field": "d", "type": "quantitative", "scale": {"domain": [0, 1], "nice": false}, "axis": {"values": [0,0.1,0.2,0.3,0.4,0.5,0.6,0.7,0.8,0.9,1], "format": "~g", "labelPadding": 12, "title": "Distance (km)", "titlePadding": 2.5, "titleFontSize": 19}},
"y": {"field": "v", "type": "quantitative", "scale": {"domain": [0, 15], "nice": false}, "axis": {"values": [0,3,6,9,12,15], "labelExpr": "datum.value + ''", "labelPadding": 15, "title": "SNR (dB)", "titlePadding": 13}}
},
"layer": [
{"transform": [{"filter": "datum.m == 'K'"}], "mark": {"type": "line", "color": "#ff0000", "strokeWidth": 1, "point": {"shape": "M-1,0H1M0,-1V1", "size": 64, "filled": false, "color": "#ff0000", "strokeWidth": 1, "opacity": 1}}},
{"transform": [{"filter": "datum.m == 'R'"}], "mark": {"type": "line", "color": "#000000", "strokeWidth": 1, "point": {"shape": "circle", "size": 64, "filled": false, "color": "#000000", "strokeWidth": 1, "opacity": 1}}},
{"transform": [{"filter": "datum.m == 'A'"}], "mark": {"type": "line", "color": "#0000ff", "strokeWidth": 1, "point": {"shape": "M-1,0H1M0,-1V1M-0.7,-0.7L0.7,0.7M-0.7,0.7L0.7,-0.7", "size": 64, "filled": false, "color": "#0000ff", "strokeWidth": 1, "opacity": 1}}},
{"transform": [{"filter": "datum.m == 'C'"}], "mark": {"type": "line", "color": "#00ff00", "strokeWidth": 1, "point": {"shape": "triangle-down", "size": 64, "filled": false, "color": "#00dd00", "strokeWidth": 1, "opacity": 1}}}
]
},
{
"mark": {"type": "point", "opacity": 0, "filled": false},
"encoding": {
"x": {"field": "d", "type": "quantitative", "scale": {"domain": [0, 1], "nice": false}, "axis": {"orient": "top", "values": [0,0.1,0.2,0.3,0.4,0.5,0.6,0.7,0.8,0.9,1], "labels": false, "title": null}},
"y": {"field": "v", "type": "quantitative", "scale": {"domain": [0, 15], "nice": false}, "axis": {"orient": "right", "values": [0,3,6,9,12,15], "labels": false, "title": null}},
"color": {"field": "m", "type": "nominal", "scale": {"domain": ["K","R","A","C"], "range": ["#ff0000","#000000","#0000ff","#00ff00"]}, "legend": {"title": null, "orient": "top-right", "rowPadding": 0, "symbolOpacity": 1, "labelExpr": "datum.label == 'K' ? 'Kim Model' : datum.label == 'R' ? 'Kruse Model' : datum.label == 'A' ? 'Al Naboulsi Advection Model' : 'Al Naboulsi Convection Model'"}},
"shape": {"field": "m", "type": "nominal", "scale": {"domain": ["K","R","A","C"], "range": ["M-5.25,0H5.25M0,-1V1", "M-5.25,0H5.25M-1,0A1,1,0,1,1,1,0A1,1,0,1,1,-1,0", "M-5.25,0H5.25M0,-1V1M-0.8,-0.6L0.8,0.6M-0.8,0.6L0.8,-0.6", "M-5.25,0H5.25M-1,-0.7H1L0,1Z"]}, "legend": {"title": null, "orient": "top-right", "rowPadding": 0, "symbolOpacity": 1, "labelExpr": "datum.label == 'K' ? 'Kim Model' : datum.label == 'R' ? 'Kruse Model' : datum.label == 'A' ? 'Al Naboulsi Advection Model' : 'Al Naboulsi Convection Model'"}}
}
}
]
},
{
"width": 1182, "height": 395, "view": {"stroke": null}, "data": {"values": []}, "mark": "rule",
"encoding": {"x": {"field": "d", "type": "quantitative", "scale": {"domain": [0, 1]}, "axis": {"orient": "bottom", "domain": false, "ticks": false, "labels": false, "grid": false, "title": "SNR for 650 nm", "titleFont": "Liberation Serif", "titleFontWeight": "normal", "titleFontSize": 34, "titleColor": "#000000", "titleX": 529, "titleY": -311, "titleAlign": "left", "titleBaseline": "alphabetic", "titleAngle": 0}}},
"title": {"text": "Fig (5)", "fontWeight": "bold", "orient": "bottom", "anchor": "start", "dx": 427, "offset": -338}
},
{
"width": 1564, "height": 40,
"view": {"stroke": null},
"data": {"values": []},
"mark": "rule",
"encoding": {"x": {"field": "d", "type": "quantitative", "scale": {"domain": [0, 1]}, "axis": {"orient": "top", "position": -191, "domain": true, "domainColor": "#000000", "domainWidth": 3, "ticks": false, "labels": false, "title": null, "grid": false}}},
"title": {"text": "DOI: 10.9790/4861-07211624\u00a0\u00a0\u00a0\u00a0\u00a0\u00a0\u00a0\u00a0\u00a0\u00a0\u00a0\u00a0\u00a0\u00a0\u00a0\u00a0\u00a0\u00a0\u00a0\u00a0\u00a0\u00a0\u00a0\u00a0\u00a0\u00a0\u00a0\u00a0\u00a0\u00a0\u00a0\u00a0\u00a0\u00a0\u00a0\u00a0www.iosrjournals.org\u00a0\u00a0\u00a0\u00a0\u00a0\u00a0\u00a0\u00a0\u00a0\u00a0\u00a0\u00a0\u00a0\u00a0\u00a0\u00a0\u00a0\u00a0\u00a0\u00a0\u00a0\u00a0\u00a0\u00a0\u00a0\u00a0\u00a0\u00a0\u00a0\u00a0\u00a0\u00a0\u00a0\u00a0\u00a0\u00a0\u00a0\u00a0\u00a0\u00a0\u00a0\u00a0\u00a0\u00a0\u00a0\u00a0\u00a0\u00a0\u00a019 | Page", "orient": "bottom", "anchor": "start", "dx": -179, "offset": -32}
}
],
"config": {
"view": {"stroke": "#4d4d4d", "strokeWidth": 1.5},
"axis": {"grid": false, "domain": false, "tickSize": -8, "tickWidth": 1.2, "tickColor": "#4d4d4d", "labelPadding": 14, "labelFont": "Liberation Sans", "labelFontWeight": "bold", "labelFontSize": 18, "labelColor": "#000000", "labelFlush": false, "labelOverlap": false, "titleFont": "Liberation Sans", "titleFontWeight": "bold", "titleFontSize": 20, "titleColor": "#000000"},
"legend": {"padding": 0, "offset": 10, "labelFont": "Liberation Serif", "labelFontWeight": "bold", "labelFontSize": 24, "labelColor": "#000000", "labelOffset": 22, "labelLimit": 1000, "symbolSize": 64, "symbolStrokeWidth": 1.2, "symbolOpacity": 1},
"title": {"font": "Liberation Serif", "fontSize": 34, "fontWeight": "normal", "color": "#000000", "subtitleFont": "Liberation Serif", "subtitleFontSize": 34, "subtitleColor": "#000000", "frame": "group", "baseline": "top", "limit": 3000}
}
}
